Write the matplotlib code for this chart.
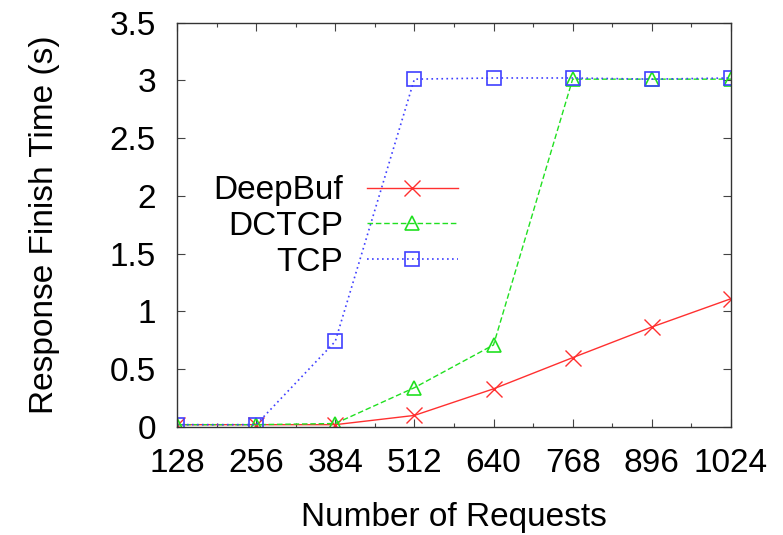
import matplotlib
matplotlib.use("Agg")
import matplotlib.pyplot as plt
from matplotlib.ticker import MultipleLocator

requests = [128, 256, 384, 512, 640, 768, 896, 1024]
deepbuf = [0.02, 0.02, 0.02, 0.10, 0.33, 0.60, 0.865, 1.11]
dctcp = [0.02, 0.02, 0.03, 0.34, 0.71, 3.01, 3.01, 3.01]
tcp = [0.02, 0.02, 0.74, 3.01, 3.02, 3.02, 3.01, 3.02]
xticks = [128, 256, 384, 512, 640, 768, 896, 1024]
yticks = [0, 0.5, 1, 1.5, 2, 2.5, 3, 3.5]
ytick_labels = ["0", "0.5", "1", "1.5", "2", "2.5", "3", "3.5"]

plt.rcParams['font.family'] = ['Liberation Sans', 'DejaVu Sans']
plt.rcParams['font.size'] = 24

fig = plt.figure(figsize=(7.83, 5.35), dpi=100)
ax = fig.add_axes([0.226, 0.2019, 0.7075, 0.756])

ax.plot(requests, deepbuf, color='#ff3030', linestyle='-', linewidth=1.0,
        marker='x', markersize=12, markeredgewidth=1.0, label='DeepBuf')
ax.plot(requests, dctcp, color='#20e020', linestyle=(0, (4, 2)), linewidth=1.0,
        marker='^', markersize=9.5, markeredgewidth=1.2, markerfacecolor='none', label='DCTCP')
ax.plot(requests, tcp, color='#4040ff', linestyle=(0, (1, 2)), linewidth=1.2,
        marker='s', markersize=10.5, markeredgewidth=1.2, markerfacecolor='none', label='TCP')

ax.set_xlim(128, 1024)
ax.set_ylim(0, 3.5)
ax.set_xticks(xticks)
ax.set_xticklabels([str(v) for v in xticks])
ax.xaxis.set_minor_locator(MultipleLocator(64))
ax.set_yticks(yticks)
ax.set_yticklabels(ytick_labels)
ax.tick_params(which='both', direction='in', top=True, right=True, color='#444444')
ax.tick_params(which='major', length=6, width=0.8, pad=15)
ax.tick_params(which='minor', length=3, width=0.8)
for s in ax.spines.values():
    s.set_color('#333333')
    s.set_linewidth(1.0)

ax.set_xlabel('Number of Requests', labelpad=17)
ax.set_ylabel('Response Finish Time (s)', labelpad=36)

leg = ax.legend(loc='upper right', bbox_to_anchor=(0.507, 0.622), frameon=False,
                markerfirst=False, handlelength=2.73, labelspacing=0.14,
                handletextpad=0.72, borderaxespad=0, borderpad=0)

fig.savefig('out.png', dpi=100)
